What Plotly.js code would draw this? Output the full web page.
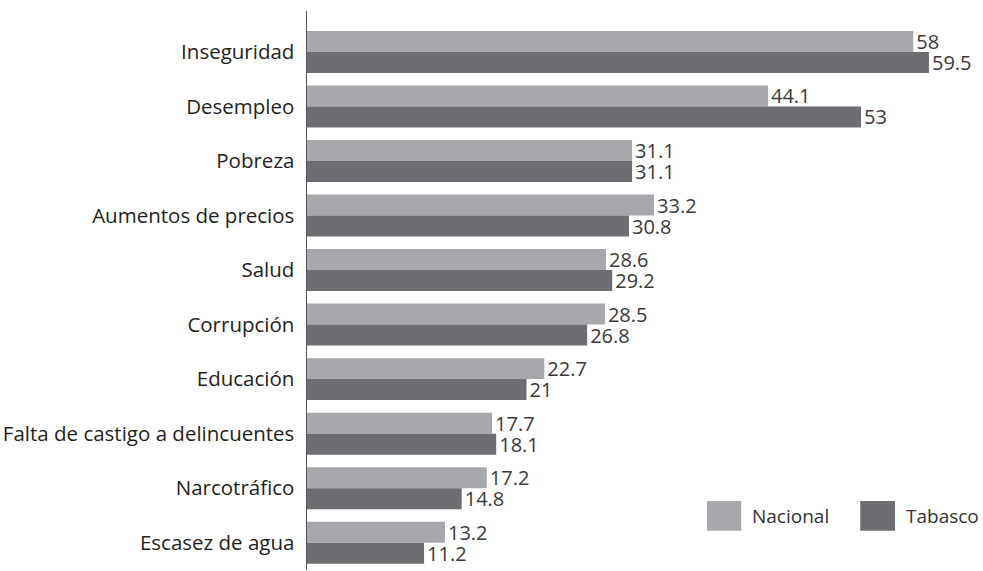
<!DOCTYPE html>
<html>
<head>
<meta charset="utf-8">
<script src="https://cdn.plot.ly/plotly-3.0.1.min.js"></script>
<style>html,body{margin:0;padding:0;background:#fff;}#chart{width:983px;height:571px;}</style>
</head>
<body>
<div id="chart"></div>
<script>
const categories = ["Inseguridad", "Desempleo", "Pobreza", "Aumentos de precios", "Salud", "Corrupción", "Educación", "Falta de castigo a delincuentes", "Narcotráfico", "Escasez de agua"];
const nacional = [58, 44.1, 31.1, 33.2, 28.6, 28.5, 22.7, 17.7, 17.2, 13.2];
const tabasco = [59.5, 53, 31.1, 30.8, 29.2, 26.8, 21, 18.1, 14.8, 11.2];
const seriesNames = ["Nacional", "Tabasco"];
const colors = ["#a7a8ab", "#6d6e71"];

const font = "Open Sans, Noto Sans, sans-serif";
const textColor = "#231f20";

function fmt(v){ return String(v); }

const traces = [nacional, tabasco].map((vals, i) => ({
  type: "bar",
  orientation: "h",
  name: seriesNames[i],
  y: categories,
  x: vals,
  text: vals.map(fmt),
  textposition: "outside",
  textfont: {family: font, size: 20, color: "#3a3a3a"},
  cliponaxis: false,
  marker: {color: colors[i], line: {width: 0}},
  hoverinfo: "x+y",
  showlegend: false
}));

const legendShapes = [];
const legendAnns = [];
const legX = [[0.598, 0.649, 0.662], [0.827, 0.879, 0.893]];
seriesNames.forEach((n, i) => {
  legendShapes.push({type: "rect", xref: "paper", yref: "paper", x0: legX[i][0], x1: legX[i][1], y0: 0.07, y1: 0.1234, fillcolor: colors[i], line: {width: 0}});
  legendAnns.push({xref: "paper", yref: "paper", x: legX[i][2], y: 0.0966, xanchor: "left", yanchor: "middle", text: n, showarrow: false, font: {family: font, size: 19, color: "#333"}});
});

const layout = {
  width: 983, height: 571,
  margin: {l: 307, r: 7, t: 11, b: 1, pad: 0},
  paper_bgcolor: "#fff", plot_bgcolor: "#fff",
  barmode: "group",
  bargap: 0.23,
  bargroupgap: 0,
  uniformtext: {mode: false},
  xaxis: {range: [0, 64], showgrid: false, zeroline: false, showticklabels: false, ticks: "", showline: false, fixedrange: true},
  yaxis: {type: "category", range: [9.5, -0.75], showgrid: false, zeroline: false, showline: true, linecolor: "#555", linewidth: 1.5,
          ticks: "", ticklabelstandoff: 7, tickfont: {family: font, size: 20.5, color: textColor}},
  shapes: legendShapes,
  annotations: legendAnns,
  showlegend: false
};
traces.forEach(t => { t.constraintext = "none"; });

Plotly.newPlot("chart", traces, layout, {displayModeBar: false, staticPlot: true});
</script>
</body>
</html>
